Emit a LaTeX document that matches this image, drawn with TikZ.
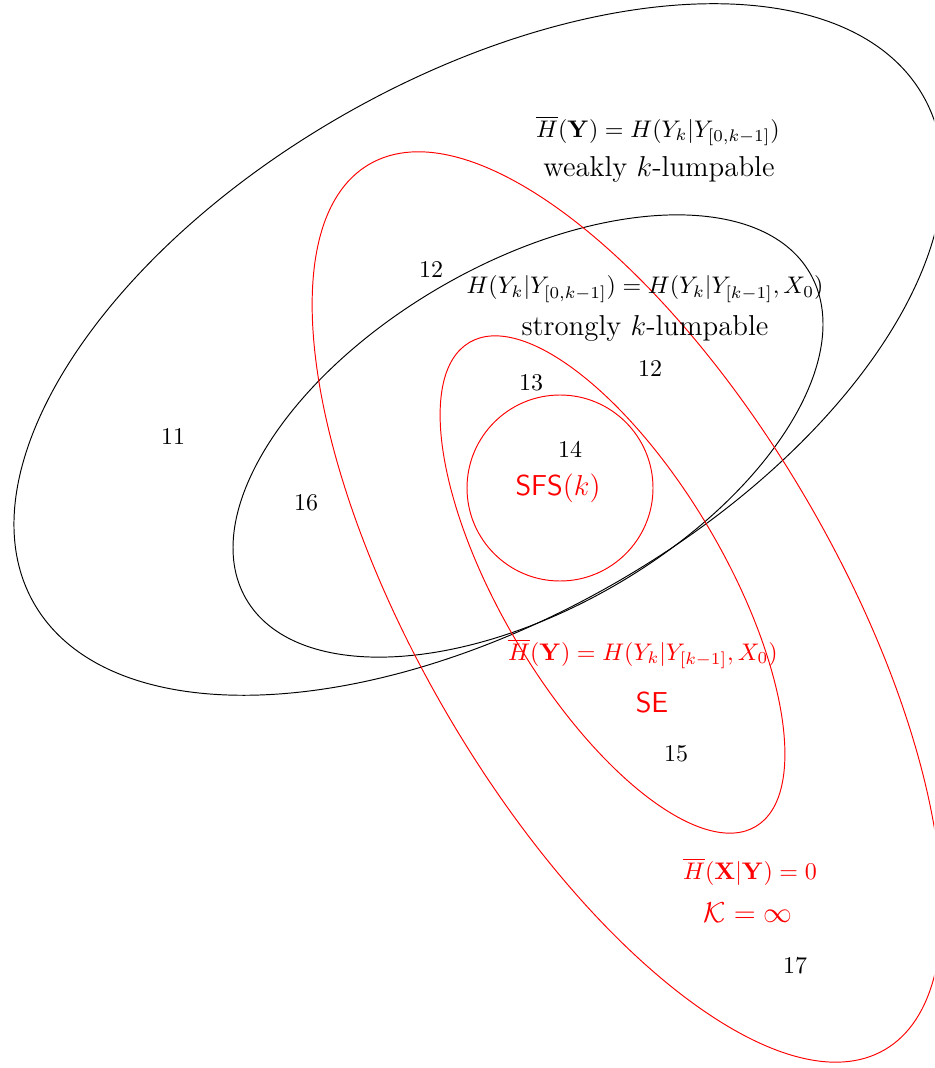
\documentclass[tikz,border=0pt]{standalone}
\usepackage{amsmath,amssymb}
\begin{document}
\begin{tikzpicture}[x=0.41667pt,y=0.41667pt,
  setline/.style={line width=0.4pt},
  blackset/.style={setline,draw=black},
  redset/.style={setline,draw=red},
  numlabel/.style={inner sep=0pt,font=\normalsize},
  formula/.style={inner sep=0pt,font=\normalsize},
  namelabel/.style={inner sep=0pt,font=\large},
  redlabel/.style={text=red}]
\useasboundingbox (0,0) rectangle (934,-1068);
\clip (0,0) rectangle (934,-1068);
\def\u{0.41667pt}
% black sets
\coordinate (cw) at (478.5,-349.5);
\coordinate (cs) at (528,-436);
\draw[blackset,rotate around={29.7:(cw)}] (cw) ellipse [x radius=511.9*\u, y radius=270.6*\u];
\draw[blackset,rotate around={30:(cs)}] (cs) ellipse [x radius=325.6*\u, y radius=172.8*\u];
% red sets
\coordinate (ck) at (627,-607);
\coordinate (ce) at (612.5,-584.5);
\coordinate (cf) at (560,-488);
\draw[redset,rotate around={-59.8:(ck)}] (ck) ellipse [x radius=512.3*\u, y radius=209.3*\u];
\draw[redset,rotate around={-59.4:(ce)}] (ce) ellipse [x radius=281.2*\u, y radius=111.6*\u];
\draw[redset] (cf) circle [radius=93*\u];
% labels
\node[formula] (fw) at (658,-131) {$\overline{H}(\mathbf{Y}) = H(Y_k|Y_{[0,k-1]})$};
\node[namelabel] (nw) at (659,-169) {weakly $k$-lumpable};
\node[formula] (fs) at (645,-289) {$H(Y_k|Y_{[0,k-1]}) = H(Y_k|Y_{[k-1]},X_0)$};
\node[namelabel] (ns) at (645,-328) {strongly $k$-lumpable};
\node[formula,redlabel] (fe) at (643,-654) {$\overline{H}(\mathbf{Y}) = H(Y_k|Y_{[k-1]},X_0)$};
\node[namelabel,redlabel] (ne) at (652,-702) {\textsf{SE}};
\node[namelabel,redlabel] (nf) at (558,-488) {\textsf{SFS}$(k)$};
\node[formula,redlabel] (fk) at (750,-872) {$\overline{H}(\mathbf{X}|\mathbf{Y})=0$};
\node[namelabel,redlabel] (nk) at (748,-913) {$\mathcal{K}=\infty$};
% region numbers
\node[numlabel] (r11) at (173,-437) {11};
\node[numlabel] (r12a) at (431,-270) {12};
\node[numlabel] (r12b) at (650,-369) {12};
\node[numlabel] (r13) at (531,-383) {13};
\node[numlabel] (r14) at (570,-449) {14};
\node[numlabel] (r15) at (676,-754) {15};
\node[numlabel] (r16) at (306,-503) {16};
\node[numlabel] (r17) at (795,-966) {17};
\end{tikzpicture}
\end{document}
